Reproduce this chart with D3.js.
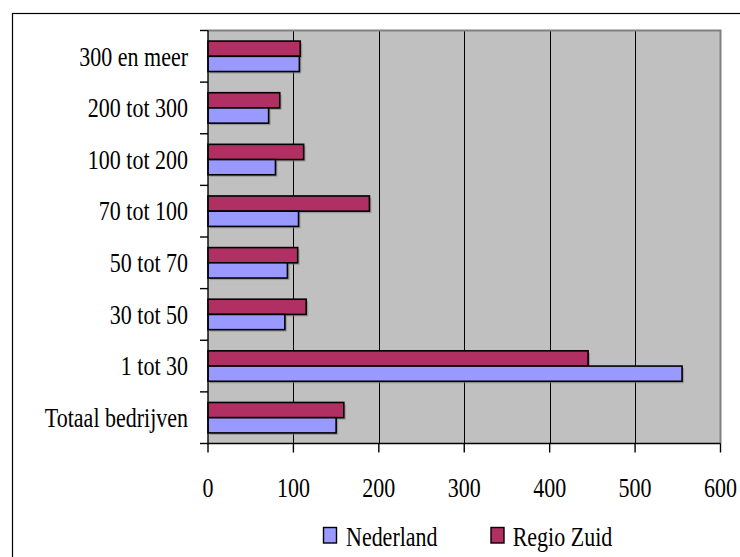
<!DOCTYPE html>
<html><head><meta charset="utf-8">
<script src="https://cdn.jsdelivr.net/npm/d3@7"></script>
<style>html,body{margin:0;padding:0;background:#fff;}svg{display:block;}</style>
</head><body>
<script>
const categories = ["300 en meer","200 tot 300","100 tot 200","70 tot 100","50 tot 70","30 tot 50","1 tot 30","Totaal bedrijven"];
const seriesNames = ["Regio Zuid","Nederland"];
const nederland = [107, 71, 79, 106, 93, 90, 555, 150];
const regioZuid = [108, 84, 112, 189, 105, 115, 445, 159];
const xTicks = [0,100,200,300,400,500,600];
const colors = {"Nederland":"#9999ff","Regio Zuid":"#b03064"};

(function(){
const W = 740, H = 557;
const svg = d3.select("body").append("svg").attr("width", W).attr("height", H);
const font = "'Liberation Serif','Times New Roman',serif";
const SY = 1.2;

// outer chart frame
svg.append("rect").attr("x", 12.5).attr("y", 13.5).attr("width", 760).attr("height", 600)
  .attr("fill", "none").attr("stroke", "#000").attr("stroke-width", 1.2);

const pL = 208, pR = 720.5, pT = 30.5, pB = 443.5;
const x = d3.scaleLinear().domain([0, 600]).range([pL, pR]);
const y = d3.scaleBand().domain(categories).range([pT, pB]).paddingInner(0.41).paddingOuter(0.205);
const ySub = d3.scaleBand().domain(seriesNames).range([0, y.bandwidth()]);

// plot area
svg.append("rect").attr("x", pL).attr("y", pT).attr("width", pR - pL).attr("height", pB - pT)
  .attr("fill", "#c0c0c0");

// gridlines
svg.append("g").selectAll("line").data(xTicks.slice(1, -1)).join("line")
  .attr("x1", d => Math.round(x(d)) + 0.5).attr("x2", d => Math.round(x(d)) + 0.5)
  .attr("y1", pT).attr("y2", pB).attr("stroke", "#000").attr("stroke-width", 1);

// plot border top/right
svg.append("path").attr("d", `M${pL},${pT}H${pR}V${pB}`)
  .attr("fill", "none").attr("stroke", "#808080").attr("stroke-width", 2);

// bars
const rows = categories.map((c, i) => ({cat: c, vals: [
  {name: "Regio Zuid", v: regioZuid[i]}, {name: "Nederland", v: nederland[i]}]}));
const gRows = svg.append("g").selectAll("g").data(rows).join("g")
  .attr("transform", d => `translate(0,${y(d.cat)})`);
gRows.selectAll("rect.sh").data(d => d.vals).join("rect").attr("class", "sh")
  .attr("x", x(0) + 2).attr("y", d => ySub(d.name) + 2)
  .attr("width", d => x(d.v) - x(0)).attr("height", ySub.bandwidth())
  .attr("fill", "#808080").attr("opacity", 0.6);
gRows.selectAll("rect.bar").data(d => d.vals).join("rect").attr("class", "bar")
  .attr("x", x(0)).attr("y", d => ySub(d.name))
  .attr("width", d => x(d.v) - x(0)).attr("height", ySub.bandwidth())
  .attr("fill", d => colors[d.name]).attr("stroke", "#000").attr("stroke-width", 1.6);

// axes
const ax = svg.append("g").attr("stroke", "#000").attr("stroke-width", 1.4);
ax.append("line").attr("x1", pL).attr("x2", pL).attr("y1", pT).attr("y2", pB);
ax.append("line").attr("x1", pL).attr("x2", pR).attr("y1", pB).attr("y2", pB);
const step = y.step();
const yBounds = d3.range(categories.length + 1).map(i => pT + i * step);
ax.selectAll("line.yt").data(yBounds).join("line").attr("class", "yt")
  .attr("x1", pL - 8).attr("x2", pL).attr("y1", d => d).attr("y2", d => d);
ax.selectAll("line.xt").data(xTicks).join("line").attr("class", "xt")
  .attr("x1", d => x(d)).attr("x2", d => x(d)).attr("y1", pB).attr("y2", pB + 9);

// category labels
svg.append("g").selectAll("text").data(categories).join("text")
  .attr("transform", d => `translate(188,${y(d) + y.bandwidth() / 2 + 9.3}) scale(1,${SY})`)
  .attr("text-anchor", "end").attr("font-family", font).attr("font-size", 22).attr("fill", "#000")
  .text(d => d);

// x tick labels
svg.append("g").selectAll("text").data(xTicks).join("text")
  .attr("transform", d => `translate(${x(d)},496.7) scale(1,${SY})`)
  .attr("text-anchor", "middle").attr("font-family", font).attr("font-size", 22).attr("fill", "#000")
  .text(d => d);

// legend
const legendItems = [{name: "Nederland", bx: 323.5, tx: 346}, {name: "Regio Zuid", bx: 491, tx: 512.7}];
const lg = svg.append("g").selectAll("g").data(legendItems).join("g");
lg.append("rect").attr("x", d => d.bx).attr("y", 527.5).attr("width", 13).attr("height", 15.5)
  .attr("fill", d => colors[d.name]).attr("stroke", "#000").attr("stroke-width", 1.4);
lg.append("text").attr("transform", d => `translate(${d.tx},545.7) scale(1,${SY})`)
  .attr("font-family", font).attr("font-size", 22).attr("fill", "#000").text(d => d.name);
})();
</script>
</body></html>
